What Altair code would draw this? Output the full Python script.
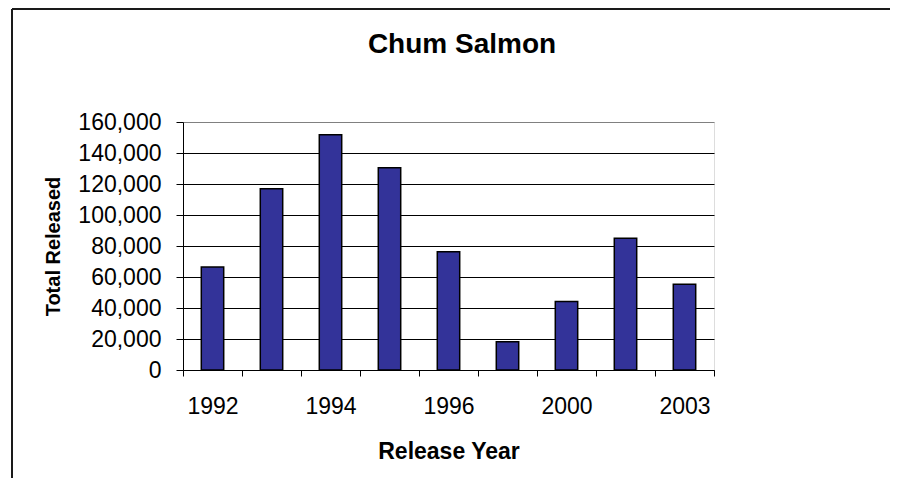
import json
import altair as alt
import pandas as pd

# ---- data ----
years = ["1992", "1993", "1994", "1995", "1996", "1998", "2000", "2002", "2003"]
released = [66500, 116900, 151800, 130500, 76300, 18200, 44200, 85000, 55300]
shown_labels = ["1992", "1994", "1996", "2000", "2003"]
y_ticks = [0, 20000, 40000, 60000, 80000, 100000, 120000, 140000, 160000]
chart_title = ["Chum Salmon"]

df = pd.DataFrame({"year": years, "released": released})
frame_df = pd.DataFrame({"k": [0]})
title_df = pd.DataFrame({"t": chart_title})

FONT = "Liberation Sans"
label_expr = "indexof(" + json.dumps(shown_labels) + ", datum.label) >= 0 ? datum.label : ''"

bars = alt.Chart(df).mark_bar(
    color="#333399", stroke="black", strokeWidth=1.5,
    width=alt.RelativeBandSize(0.38),
).encode(
    x=alt.X(
        "year:N", sort=years,
        scale=alt.Scale(paddingInner=0, paddingOuter=0),
        axis=alt.Axis(
            title="Release Year", labelAngle=0, labelExpr=label_expr,
            tickBand="extent", tickSize=6, tickColor="black",
            domainColor="black", domainWidth=1,
            labelFont=FONT, labelFontSize=23, labelColor="black", labelPadding=19,
            titleFont=FONT, titleFontSize=23, titleFontWeight="bold",
            titleColor="black", titlePadding=22, grid=False,
        ),
    ),
    y=alt.Y(
        "released:Q",
        scale=alt.Scale(domain=[0, 160000], nice=False),
        axis=alt.Axis(
            title="Total Released", values=y_ticks, format=",d",
            tickSize=7, tickColor="black", domainColor="black", domainWidth=1,
            labelFont=FONT, labelFontSize=23, labelColor="black", labelPadding=15,
            titleFont=FONT, titleFontSize=20, titleFontWeight="bold",
            titleColor="black", titlePadding=14,
            grid=True,
            gridColor={"condition": {"test": "datum.value >= 160000", "value": "#808080"}, "value": "black"},
            gridWidth=1,
        ),
    ),
)

title_mark = alt.Chart(title_df).mark_text(
    font=FONT, fontSize=28, fontWeight="bold", color="black",
    align="center", baseline="alphabetic",
).encode(text="t:N", x=alt.value(279), y=alt.value(-69))

frame_v = alt.Chart(frame_df).mark_rule(color="#1a1a1a", strokeWidth=2).encode(
    x=alt.value(-171), y=alt.value(-113), y2=alt.value(400)
)
frame_h = alt.Chart(frame_df).mark_rule(color="#1a1a1a", strokeWidth=2).encode(
    x=alt.value(-171), x2=alt.value(800), y=alt.value(-113)
)

chart = alt.layer(frame_v, frame_h, title_mark, bars).properties(
    width=531,
    height=248,
    autosize="none",
    padding={"left": 175, "top": 114, "right": 176, "bottom": 108},
).configure_view(
    stroke="#808080", strokeWidth=2
).configure(background="white")

chart.save("out.html", embed_options={"renderer": "svg", "actions": False})
